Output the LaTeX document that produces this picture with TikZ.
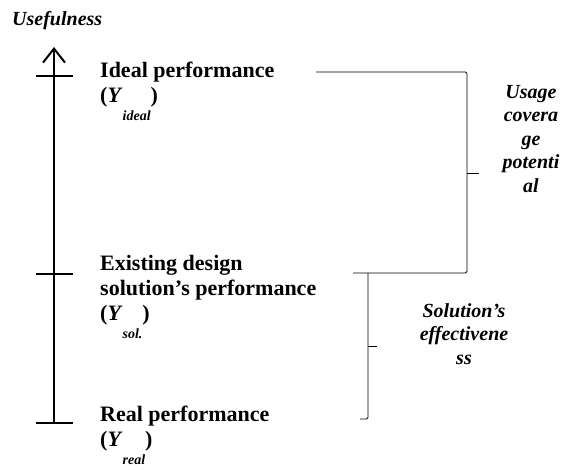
\documentclass[tikz,border=0pt]{standalone}
\usepackage{fontspec}
\setmainfont{Liberation Serif}
\usetikzlibrary{arrows.meta}

\newcommand{\lowsub}[1]{\raisebox{-0.85em}{\fontsize{14}{14}\selectfont\textit{#1}}}

\begin{document}
\begin{tikzpicture}[x=1pt,y=-1pt,
  perf/.style={font=\fontsize{22}{25}\selectfont\bfseries, align=left, anchor=base west, inner sep=0pt},
  gain/.style={font=\fontsize{20}{23.5}\selectfont\bfseries\itshape, align=center, anchor=base, inner sep=0pt},
  brace/.style={black, line width=0.9pt, rounded corners=1.5pt},
  axis/.style={black, line width=2pt}]
\useasboundingbox (0,0) rectangle (570,469);
\node [gain, anchor=base west] (useful) at (12,25) {Usefulness};
\coordinate (axtop) at (54,47);
\coordinate (axbot) at (54,423);
\draw [axis, -{Straight Barb[length=14pt,width=22pt]}] (axbot) -- (axtop);
\coordinate (tkideal) at (54,76);
\coordinate (tksol) at (54,274);
\draw [axis] ([xshift=-18pt]tkideal) -- ([xshift=19pt]tkideal);
\draw [axis] ([xshift=-18pt]tksol) -- ([xshift=19pt]tksol);
\draw [axis] ([xshift=-18pt]axbot) -- ([xshift=19pt]axbot);
\node [perf] (ideal) at (100,102) {Ideal performance\\(\textit{Y}\lowsub{ideal})};
\node [perf] (sol) at (100,320) {Existing design\\solution’s performance\\(\textit{Y}\lowsub{sol.})};
\node [perf] (real) at (100,446) {Real performance\\(\textit{Y}\lowsub{real})};
\coordinate (upA) at (316,72);
\coordinate (upB) at (467,72);
\coordinate (upC) at (467,273);
\coordinate (upD) at (353,273);
\coordinate (upM) at (467,173);
\coordinate (loA) at (368,273);
\coordinate (loB) at (368,419);
\coordinate (loM) at (368,346);
\draw [brace] (upA) -- (upB) -- (upC) -- (upD);
\draw [brace] (upM) -- ++(12,0);
\draw [brace] (loA) -- (loB) -- ++(-8,0);
\draw [brace] (loM) -- ++(9,0);
\node [gain] (usage) at (531,192) {Usage\\covera\\ge\\potenti\\al};
\node [gain] (effect) at (464,364) {Solution’s\\effectivene\\ss};
\end{tikzpicture}
\end{document}
